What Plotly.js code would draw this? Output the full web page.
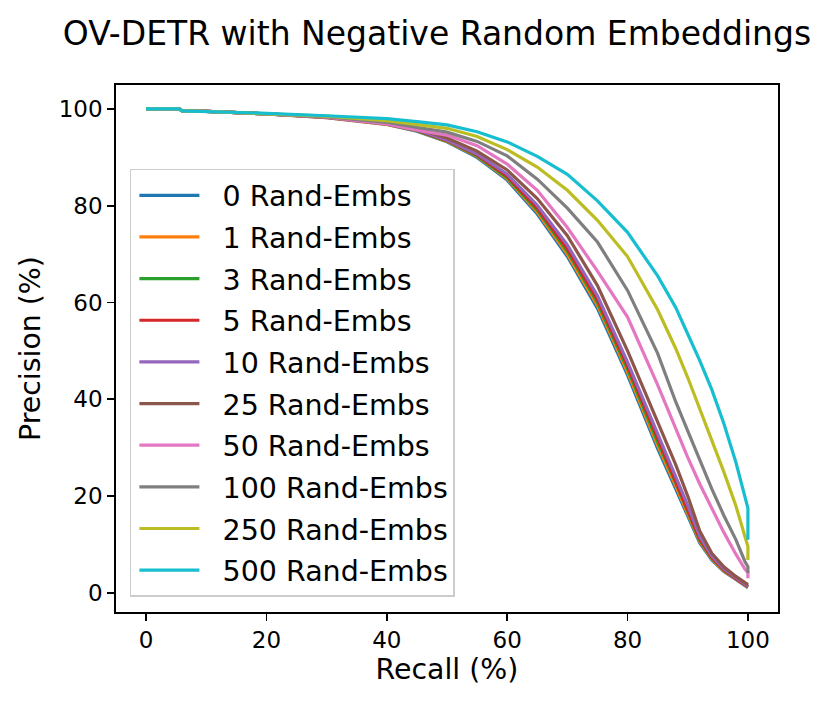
<!DOCTYPE html>
<html>
<head>
<meta charset="utf-8">
<script src="https://cdn.plot.ly/plotly-3.0.1.min.js"></script>
<style>html,body{margin:0;padding:0;background:#fff;}#chart{width:830px;height:705px;}</style>
</head>
<body>
<div id="chart"></div>
<script>
// Series labels and colours
const seriesNames = ["0 Rand-Embs","1 Rand-Embs","3 Rand-Embs","5 Rand-Embs","10 Rand-Embs","25 Rand-Embs","50 Rand-Embs","100 Rand-Embs","250 Rand-Embs","500 Rand-Embs"];
const seriesColors = ["#1f77b4","#ff7f0e","#2ca02c","#d62728","#9467bd","#8c564b","#e377c2","#7f7f7f","#bcbd22","#17becf"];

// Recall grids (%)
const recallCluster = [0,5.5,6,10,20,30,40,45,50,55,60,65,70,75,80,85,88,90,92,94,96,98,100];
const recallUpper   = [0,5.5,6,10,20,30,40,45,50,55,60,65,70,75,80,85,88,90,92,94,96,98,99.5,100,100];

// Precision (%) per series
const prec0   = [100,100,99.6,99.5,99.0,98.2,96.8,95.4,93.2,90.0,85.3,78.3,69.5,58.8,45.0,29.8,21.5,15.8,10.3,6.8,4.4,2.8,1.1];
const prec1   = [100,100,99.6,99.5,99.0,98.2,96.8,95.5,93.3,90.2,85.6,78.7,70.0,59.4,45.6,30.5,22.1,16.3,10.6,7.0,4.5,2.9,1.2];
const prec3   = [100,100,99.6,99.5,99.0,98.3,96.9,95.5,93.4,90.3,85.8,79.1,70.6,60.0,46.3,31.2,22.8,16.8,10.9,7.2,4.7,3.0,1.3];
const prec5   = [100,100,99.6,99.5,99.0,98.3,96.9,95.6,93.5,90.5,86.1,79.5,71.1,60.6,46.9,32.0,23.4,17.4,11.2,7.3,4.8,3.0,1.3];
const prec10  = [100,100,99.6,99.5,99.0,98.3,96.9,95.7,93.6,90.7,86.5,80.1,71.9,61.4,47.7,33.0,24.3,18.1,11.7,7.6,5.0,3.1,1.4];
const prec25  = [100,100,99.6,99.5,99.0,98.3,97.0,95.9,94.0,91.3,87.4,81.5,73.8,63.5,50.0,35.5,26.5,20.0,12.8,8.2,5.4,3.4,1.7];
const prec50  = [100,100,99.6,99.5,99.0,98.3,96.9,95.6,94.6,92.4,88.6,83.2,75.5,66.5,57.0,43.0,34.0,28.0,22.5,17.5,12.5,8.0,4.9,4.2,3.0];
const prec100 = [100,100,99.6,99.5,99.0,98.4,97.2,96.2,95.2,93.3,90.3,85.5,79.5,72.5,62.5,49.5,39.5,33.5,27.5,21.5,16.0,11.0,6.5,5.4,4.1];
const prec250 = [100,100,99.6,99.5,99.0,98.5,97.6,96.8,96.0,94.3,91.6,88.0,83.2,77.0,69.5,58.5,50.5,44.5,38.0,31.5,25.0,18.0,12.0,9.6,6.8];
const prec500 = [100,100,99.6,99.5,99.1,98.6,98.0,97.4,96.7,95.3,93.2,90.2,86.5,81.0,74.5,65.5,59.0,53.5,48.0,42.0,35.0,27.0,20.0,17.5,11.0];

const precisions = [prec0,prec1,prec3,prec5,prec10,prec25,prec50,prec100,prec250,prec500];

const xTicks = [0,20,40,60,80,100];
const yTicks = [0,20,40,60,80,100];

const GAP = "\u00a0\u00a0";
const traces = precisions.map((p, i) => ({
  type: "scatter",
  mode: "lines",
  x: p.length === recallCluster.length ? recallCluster : recallUpper,
  y: p,
  name: GAP + seriesNames[i],
  legendgroup: "g" + i,
  line: {color: seriesColors[i], width: 3.2},
  hoverinfo: "skip"
}));

const FONT = "DejaVu Sans, Liberation Sans, sans-serif";

const layout = {
  width: 830,
  height: 705,
  margin: {l: 116, r: 52, t: 85, b: 93, pad: 0},
  paper_bgcolor: "#ffffff",
  plot_bgcolor: "#ffffff",
  font: {family: FONT, color: "#000000", size: 23},
  title: {
    text: "OV-DETR with Negative Random Embeddings",
    font: {family: FONT, size: 33, color: "#000000"},
    xref: "container", x: 0.5265, xanchor: "center",
    yref: "container", y: 0.952, yanchor: "middle"
  },
  xaxis: {
    range: [-5, 105],
    tickmode: "array", tickvals: xTicks, ticktext: xTicks.map(String),
    ticks: "outside", ticklen: 7, tickwidth: 1.8, tickcolor: "#000000",
    showline: true, linecolor: "#000000", linewidth: 1.8, mirror: true,
    showgrid: false, zeroline: false,
    tickfont: {family: FONT, size: 23, color: "#000000"},
    title: {text: "Recall (%)", font: {family: FONT, size: 28.4, color: "#000000"}, standoff: 7}
  },
  yaxis: {
    range: [-3.95, 104.95],
    tickmode: "array", tickvals: yTicks, ticktext: yTicks.map(String),
    ticks: "outside", ticklen: 7, tickwidth: 1.8, tickcolor: "#000000",
    showline: true, linecolor: "#000000", linewidth: 1.8, mirror: true,
    showgrid: false, zeroline: false,
    tickfont: {family: FONT, size: 23, color: "#000000"},
    title: {text: "Precision (%)", font: {family: FONT, size: 28.4, color: "#000000"}, standoff: 10}
  },
  showlegend: true,
  legend: {
    x: 0.021, y: 0.841, xanchor: "left", yanchor: "top",
    bgcolor: "rgba(255,255,255,0.8)", bordercolor: "#cccccc", borderwidth: 1.5,
    font: {family: FONT, size: 28.5, color: "#000000"},
    tracegroupgap: 1.6,
    itemwidth: 60,
    indentation: 3
  }
};

Plotly.newPlot("chart", traces, layout, {displayModeBar: false, staticPlot: true});
</script>
</body>
</html>
